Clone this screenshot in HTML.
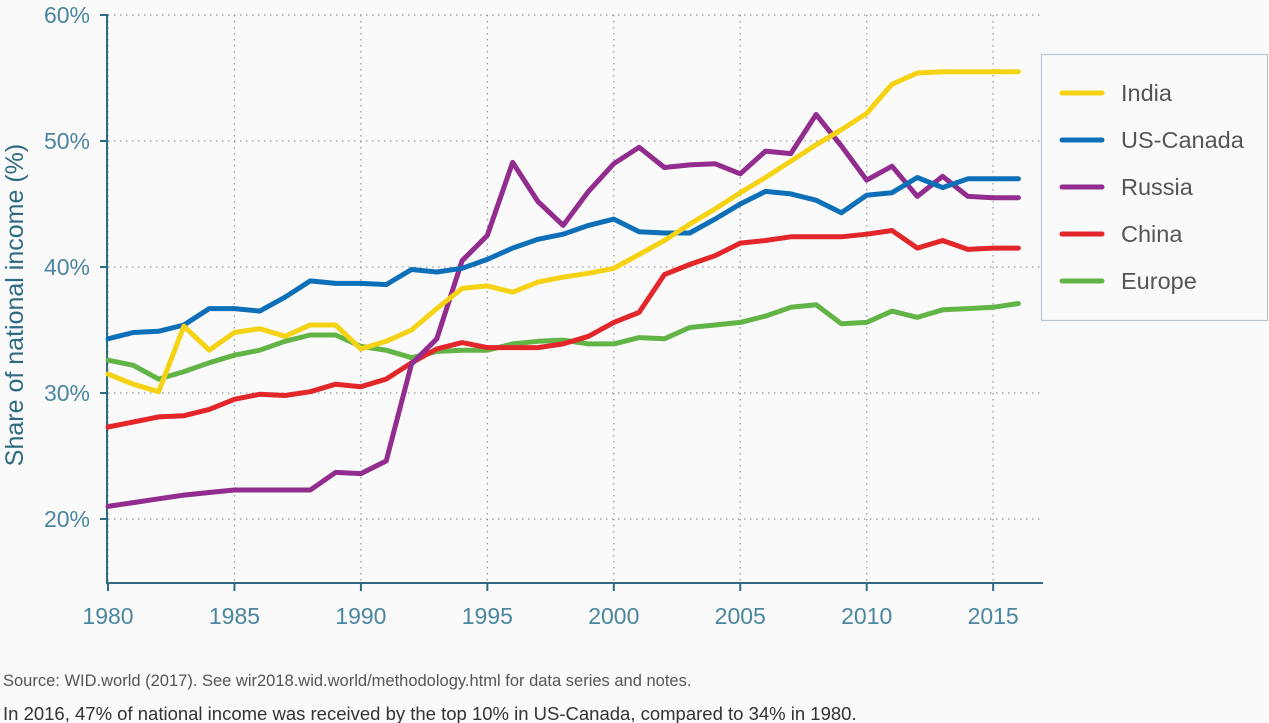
<!DOCTYPE html>
<html><head><meta charset="utf-8"><style>
body{margin:0;background:#fafafa;font-family:"Liberation Sans",sans-serif;}
svg{display:block}
</style></head><body>
<svg width="1269" height="723" viewBox="0 0 1269 723">
<rect width="1269" height="723" fill="#fafafa"/>
<g id="grid"></g><g id="axes"></g><g id="series"></g><g id="legend"></g>
<text x="-305" y="23" transform="rotate(-90)" text-anchor="middle" font-size="25" fill="#2f6b80">Share of national income (%)</text>
<text x="3" y="686" font-size="16.5" fill="#555">Source: WID.world (2017). See wir2018.wid.world/methodology.html for data series and notes.</text>
<text x="3" y="720" font-size="18.5" fill="#333">In 2016, 47% of national income was received by the top 10% in US-Canada, compared to 34% in 1980.</text>
</svg>
<script>
const years=[];for(let y=1980;y<=2016;y++)years.push(y);
const yTicks=[20,30,40,50,60];
const xTicks=[1980,1985,1990,1995,2000,2005,2010,2015];
const seriesNames=["India","US-Canada","Russia","China","Europe"];
const seriesColors=["#f5d314","#0d6fb8","#922c8f","#e2262a","#62b446"];
const india=[31.5,30.7,30.1,35.3,33.4,34.8,35.1,34.5,35.4,35.4,33.5,34.1,35.0,36.7,38.3,38.5,38.0,38.8,39.2,39.5,39.9,41.0,42.1,43.4,44.6,45.9,47.1,48.4,49.7,50.9,52.2,54.5,55.4,55.5,55.5,55.5,55.5];
const usCanada=[34.3,34.8,34.9,35.4,36.7,36.7,36.5,37.6,38.9,38.7,38.7,38.6,39.8,39.6,39.9,40.6,41.5,42.2,42.6,43.3,43.8,42.8,42.7,42.7,43.8,45.0,46.0,45.8,45.3,44.3,45.7,45.9,47.1,46.3,47.0,47.0,47.0];
const russia=[21.0,21.3,21.6,21.9,22.1,22.3,22.3,22.3,22.3,23.7,23.6,24.6,32.3,34.3,40.5,42.5,48.3,45.2,43.3,46.0,48.2,49.5,47.9,48.1,48.2,47.4,49.2,49.0,52.1,49.6,46.9,48.0,45.6,47.2,45.6,45.5,45.5];
const china=[27.3,27.7,28.1,28.2,28.7,29.5,29.9,29.8,30.1,30.7,30.5,31.1,32.4,33.5,34.0,33.6,33.6,33.6,33.9,34.5,35.6,36.4,39.4,40.2,40.9,41.9,42.1,42.4,42.4,42.4,42.6,42.9,41.5,42.1,41.4,41.5,41.5];
const europe=[32.6,32.2,31.1,31.7,32.4,33.0,33.4,34.1,34.6,34.6,33.7,33.4,32.8,33.3,33.4,33.4,33.9,34.1,34.2,33.9,33.9,34.4,34.3,35.2,35.4,35.6,36.1,36.8,37.0,35.5,35.6,36.5,36.0,36.6,36.7,36.8,37.1];
const allSeries=[india,usCanada,russia,china,europe];
const NS="http://www.w3.org/2000/svg";
const X=y=>108+(y-1980)*25.29;
const Y=v=>15+(60-v)*12.6;
function mk(tag,attrs,parent){const e=document.createElementNS(NS,tag);for(const k in attrs)e.setAttribute(k,attrs[k]);parent.appendChild(e);return e;}
const grid=document.getElementById('grid'),axes=document.getElementById('axes'),ser=document.getElementById('series'),leg=document.getElementById('legend');
yTicks.forEach(t=>{
 const l=mk('line',{x1:108,x2:1043,y1:Y(t),y2:Y(t),stroke:'#999','stroke-width':1.3,'stroke-dasharray':'1.5 4.5'},grid);
 
 
 const tk=mk('line',{x1:100,x2:108,y1:Y(t),y2:Y(t),stroke:'#2f6b80','stroke-width':2},axes);
 
 
 const tx=mk('text',{x:90,y:Y(t)+8,'text-anchor':'end','font-size':23,fill:'#4a86a0'},axes);
 tx.textContent=t+'%';
 
 
});
xTicks.forEach(t=>{
 const l=mk('line',{x1:X(t),x2:X(t),y1:15,y2:583,stroke:'#999','stroke-width':1.3,'stroke-dasharray':'1.5 4.5'},grid);
 
 
 const tk=mk('line',{x1:X(t),x2:X(t),y1:583,y2:591,stroke:'#2f6b80','stroke-width':2},axes);
 
 
 const tx=mk('text',{x:X(t),y:624,'text-anchor':'middle','font-size':23,fill:'#4a86a0'},axes);
 tx.textContent=t;
 
 
});
const ya=mk('line',{x1:107,x2:107,y1:14,y2:584,stroke:'#2f6b80','stroke-width':2},axes);


const xa=mk('line',{x1:106,x2:1043,y1:583,y2:583,stroke:'#2f6b80','stroke-width':2},axes);


[4,3,2,1,0].forEach(i=>{
 const pts=allSeries[i].map((v,j)=>X(years[j]).toFixed(1)+','+Y(v).toFixed(1)).join(' ');
 const p=mk('polyline',{points:pts,fill:'none',stroke:seriesColors[i],'stroke-width':5,'stroke-linejoin':'round','stroke-linecap':'round'},ser);
 
 
});
const box=mk('rect',{x:1041.5,y:54.5,width:226,height:266,fill:'#fafafa',stroke:'#b7c7d4','stroke-width':1.2},leg);


seriesNames.forEach((n,i)=>{
 const g=mk('g',{},leg);
 
 
 const yy=93+i*47;
 mk('line',{x1:1062,x2:1102,y1:yy,y2:yy,stroke:seriesColors[i],'stroke-width':5,'stroke-linecap':'round'},g);
 const t=mk('text',{x:1121,y:yy+8,'font-size':23.5,fill:'#555'},g);
 t.textContent=n;
});
</script>
</body></html>
